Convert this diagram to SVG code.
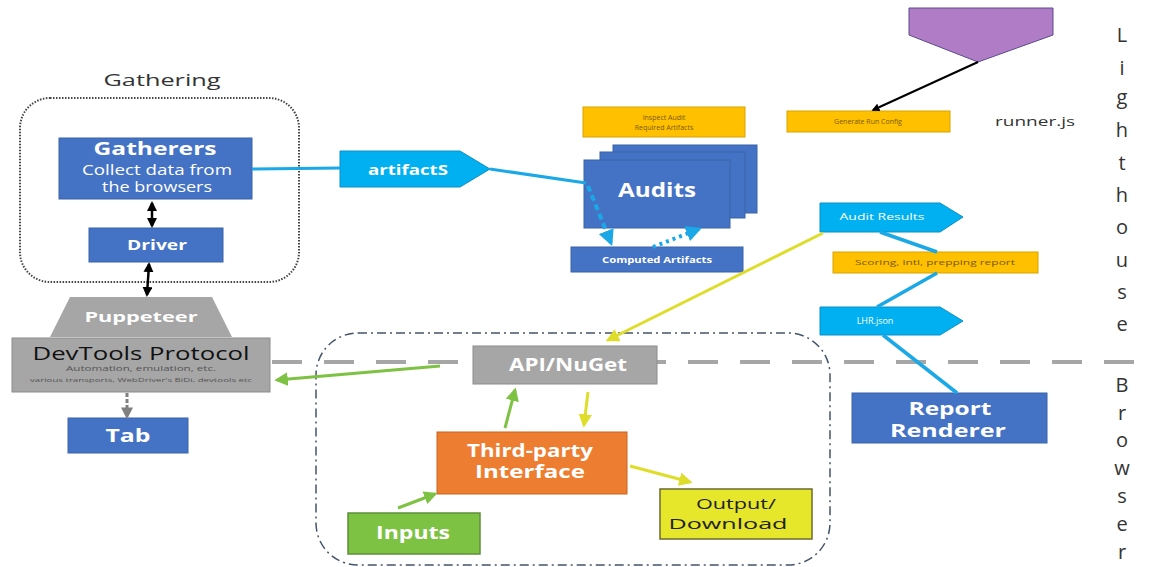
<svg xmlns="http://www.w3.org/2000/svg" width="1164" height="567" viewBox="0 0 1164 567">
<style>
text{font-family:"Open Sans","Noto Sans","Liberation Sans",sans-serif}
.w{fill:#fff;font-weight:bold;text-anchor:middle}
.d{fill:#333;text-anchor:middle}
.blue{fill:#4472c4;stroke:#3a62a8;stroke-width:1}
.lb{fill:#00b0f0;stroke:#0a90c8;stroke-width:1}
.og{fill:#ffc000;stroke:#d9a300;stroke-width:1}
.gr{fill:#a6a6a6;stroke:#8c8c8c;stroke-width:1}
.tiny{fill:#7a5a00;font-size:7px;text-anchor:middle}
.ls{fill:#333;font-size:20px;text-anchor:middle}
</style>
<defs>
<marker id="mk" viewBox="0 0 10 10" refX="8" refY="5" markerWidth="4" markerHeight="4" orient="auto-start-reverse"><path d="M0,0L10,5L0,10z" fill="#000"/></marker>
<marker id="mg" viewBox="0 0 10 10" refX="8" refY="5" markerWidth="4.5" markerHeight="4.5" orient="auto"><path d="M0,0L10,5L0,10z" fill="#7dc242"/></marker>
<marker id="my" viewBox="0 0 10 10" refX="8" refY="5" markerWidth="4.5" markerHeight="4.5" orient="auto"><path d="M0,0L10,5L0,10z" fill="#dede2a"/></marker>
<marker id="mb" viewBox="0 0 10 10" refX="8" refY="5" markerWidth="4" markerHeight="4" orient="auto"><path d="M0,0L10,5L0,10z" fill="#1aa8e6"/></marker>
<marker id="mgr" viewBox="0 0 10 10" refX="8" refY="5" markerWidth="4" markerHeight="4" orient="auto"><path d="M0,0L10,5L0,10z" fill="#808080"/></marker>
</defs>

<!-- containers -->
<g id="gathering-group">
<text x="162" y="86" class="d" font-size="16" textLength="117" lengthAdjust="spacingAndGlyphs">Gathering</text>
<rect x="20" y="98" width="279" height="184" rx="30" fill="none" stroke="#444" stroke-width="2" stroke-dasharray="1.5 1.5"/>
</g>
<g id="browser-group">
<rect x="316" y="333" width="514" height="232" rx="42" fill="none" stroke="#44546a" stroke-width="1.5" stroke-dasharray="9 4 2 4"/>
</g>
<g id="divider">
<line x1="272" y1="362" x2="1150" y2="362" stroke="#a6a6a6" stroke-width="4" stroke-dasharray="30 22"/>
</g>

<!-- nodes -->
<g id="gatherers">
<rect x="59" y="138" width="193" height="61" class="blue"/>
<text x="155" y="155" class="w" font-size="17" textLength="123" lengthAdjust="spacingAndGlyphs">Gatherers</text>
<text x="157" y="175" fill="#fff" font-size="14" text-anchor="middle" textLength="150" lengthAdjust="spacingAndGlyphs">Collect data from</text>
<text x="157" y="192" fill="#fff" font-size="14" text-anchor="middle" textLength="110" lengthAdjust="spacingAndGlyphs">the browsers</text>
</g>
<g id="driver">
<rect x="89" y="228" width="134" height="34" class="blue"/>
<text x="157" y="250" class="w" font-size="14" textLength="60" lengthAdjust="spacingAndGlyphs">Driver</text>
</g>
<g id="puppeteer">
<path d="M70,297L212,297L232,337L50,337z" fill="#a6a6a6"/>
<text x="141" y="322" class="w" font-size="14" textLength="113" lengthAdjust="spacingAndGlyphs">Puppeteer</text>
</g>
<g id="devtools">
<rect x="12" y="338" width="258" height="54" class="gr"/>
<text x="141" y="360" fill="#111" font-size="19" text-anchor="middle" textLength="217" lengthAdjust="spacingAndGlyphs">DevTools Protocol</text>
<text x="141" y="371" fill="#555" font-size="7" text-anchor="middle" textLength="150" lengthAdjust="spacingAndGlyphs">Automation, emulation, etc.</text>
<text x="141" y="382" fill="#555" font-size="6" text-anchor="middle" textLength="222" lengthAdjust="spacingAndGlyphs">various transports, WebDriver's BiDi, devtools etc</text>
</g>
<g id="tab">
<rect x="68" y="418" width="120" height="35" class="blue"/>
<text x="128" y="442" class="w" font-size="17" textLength="45" lengthAdjust="spacingAndGlyphs">Tab</text>
</g>
<g id="artifacts">
<path d="M340,151L460,151L490,169L460,187L340,187z" class="lb"/>
<text x="408" y="175" class="w" font-size="15" textLength="80" lengthAdjust="spacingAndGlyphs">artifactS</text>
</g>
<g id="inspect">
<rect x="583" y="107" width="162" height="30" class="og"/>
<text x="664" y="120" class="tiny">Inspect Audit</text>
<text x="664" y="130" class="tiny">Required Artifacts</text>
</g>
<g id="audits">
<rect x="613" y="145" width="144" height="68" class="blue"/>
<rect x="600" y="152" width="145" height="66" class="blue"/>
<rect x="584" y="160" width="146" height="68" class="blue"/>
<text x="657" y="197" class="w" font-size="20" textLength="78" lengthAdjust="spacingAndGlyphs">Audits</text>
</g>
<g id="computed">
<rect x="571" y="247" width="172" height="25" class="blue"/>
<text x="657" y="263" class="w" font-size="9" textLength="110" lengthAdjust="spacingAndGlyphs">Computed Artifacts</text>
</g>
<g id="purple">
<path d="M909,8L1053,8L1053,35L978,62L909,35z" fill="#b07cc6" stroke="#5b4a8a" stroke-width="1"/>
</g>
<g id="generate">
<rect x="787" y="111" width="163" height="21" class="og"/>
<text x="868" y="124" class="tiny">Generate Run Config</text>
</g>
<g id="runner">
<text x="1035" y="126" class="d" font-size="13" textLength="80" lengthAdjust="spacingAndGlyphs">runner.js</text>
</g>
<g id="audit-results">
<path d="M820,203L940,203L963,217L940,232L820,232z" class="lb"/>
<text x="882" y="220" fill="#fff" font-size="9" text-anchor="middle" textLength="85" lengthAdjust="spacingAndGlyphs">Audit Results</text>
</g>
<g id="scoring">
<rect x="833" y="252" width="205" height="21" class="og"/>
<text x="935" y="265" class="tiny" textLength="160" lengthAdjust="spacingAndGlyphs">Scoring, intl, prepping report</text>
</g>
<g id="lhr">
<path d="M820,307L940,307L963,321L940,335L820,335z" class="lb"/>
<text x="875" y="324" fill="#fff" font-size="9" text-anchor="middle">LHR.json</text>
</g>
<g id="report-renderer">
<rect x="852" y="393" width="195" height="50" class="blue"/>
<text x="950" y="415" class="w" font-size="17" textLength="83" lengthAdjust="spacingAndGlyphs">Report</text>
<text x="948" y="437" class="w" font-size="17" textLength="116" lengthAdjust="spacingAndGlyphs">Renderer</text>
</g>
<g id="api">
<rect x="473" y="346" width="184" height="38" class="gr"/>
<text x="568" y="371" class="w" font-size="17" textLength="118" lengthAdjust="spacingAndGlyphs">API/NuGet</text>
</g>
<g id="third-party">
<rect x="437" y="432" width="190" height="62" fill="#ed7d31" stroke="#c8651f" stroke-width="1"/>
<text x="530" y="457" class="w" font-size="17" textLength="126" lengthAdjust="spacingAndGlyphs">Third-party</text>
<text x="530" y="478" class="w" font-size="17" textLength="110" lengthAdjust="spacingAndGlyphs">Interface</text>
</g>
<g id="inputs">
<rect x="348" y="513" width="132" height="41" fill="#7dc242" stroke="#5f8f3a" stroke-width="1.5"/>
<text x="413" y="539" class="w" font-size="17" textLength="74" lengthAdjust="spacingAndGlyphs">Inputs</text>
</g>
<g id="output">
<rect x="660" y="489" width="152" height="50" fill="#e6e62a" stroke="#6b6b30" stroke-width="1.5"/>
<text x="736" y="509" fill="#222" font-size="15" text-anchor="middle" textLength="80" lengthAdjust="spacingAndGlyphs">Output/</text>
<text x="728" y="529" fill="#222" font-size="15" text-anchor="middle" textLength="119" lengthAdjust="spacingAndGlyphs">Download</text>
</g>
<g id="side-labels">
<text x="1122" y="42" class="ls">L</text>
<text x="1122" y="75" class="ls">i</text>
<text x="1122" y="104" class="ls">g</text>
<text x="1122" y="137" class="ls">h</text>
<text x="1122" y="170" class="ls">t</text>
<text x="1122" y="202" class="ls">h</text>
<text x="1122" y="234" class="ls">o</text>
<text x="1122" y="267" class="ls">u</text>
<text x="1122" y="299" class="ls">s</text>
<text x="1122" y="331" class="ls">e</text>
<text x="1122" y="392" class="ls">B</text>
<text x="1122" y="420" class="ls">r</text>
<text x="1122" y="447" class="ls">o</text>
<text x="1122" y="475" class="ls">w</text>
<text x="1122" y="503" class="ls">s</text>
<text x="1122" y="531" class="ls">e</text>
<text x="1122" y="559" class="ls">r</text>
</g>

<!-- connectors -->
<g id="connectors" fill="none">
<line x1="152" y1="203" x2="152" y2="226" stroke="#000" stroke-width="2.5" marker-start="url(#mk)" marker-end="url(#mk)"/>
<line x1="149" y1="264" x2="147" y2="295" stroke="#000" stroke-width="2.5" marker-start="url(#mk)" marker-end="url(#mk)"/>
<line x1="252" y1="169" x2="340" y2="168" stroke="#1aa8e6" stroke-width="3"/>
<line x1="490" y1="169" x2="586" y2="183" stroke="#1aa8e6" stroke-width="3"/>
<line x1="588" y1="186" x2="611" y2="243" stroke="#1aa8e6" stroke-width="4" stroke-dasharray="6 4" marker-end="url(#mb)"/>
<line x1="653" y1="247" x2="699" y2="229" stroke="#1aa8e6" stroke-width="4" stroke-dasharray="3 4" marker-end="url(#mb)"/>
<line x1="978" y1="62" x2="873" y2="110" stroke="#000" stroke-width="2" marker-end="url(#mk)"/>
<line x1="880" y1="232" x2="937" y2="252" stroke="#1aa8e6" stroke-width="3.5"/>
<line x1="937" y1="273" x2="877" y2="307" stroke="#1aa8e6" stroke-width="3.5"/>
<line x1="883" y1="335" x2="957" y2="393" stroke="#1aa8e6" stroke-width="3.5"/>
<line x1="823" y1="233" x2="608" y2="340" stroke="#dede2a" stroke-width="3" marker-end="url(#my)"/>
<line x1="440" y1="366" x2="277" y2="380" stroke="#7dc242" stroke-width="3" marker-end="url(#mg)"/>
<line x1="505" y1="428" x2="515" y2="390" stroke="#7dc242" stroke-width="3" marker-end="url(#mg)"/>
<line x1="588" y1="392" x2="584" y2="425" stroke="#dede2a" stroke-width="3" marker-end="url(#my)"/>
<line x1="398" y1="508" x2="435" y2="494" stroke="#7dc242" stroke-width="3" marker-end="url(#mg)"/>
<line x1="630" y1="466" x2="690" y2="482" stroke="#dede2a" stroke-width="3" marker-end="url(#my)"/>
<line x1="127" y1="393" x2="127" y2="417" stroke="#808080" stroke-width="3" stroke-dasharray="4 2" marker-end="url(#mgr)"/>
</g>
</svg>
